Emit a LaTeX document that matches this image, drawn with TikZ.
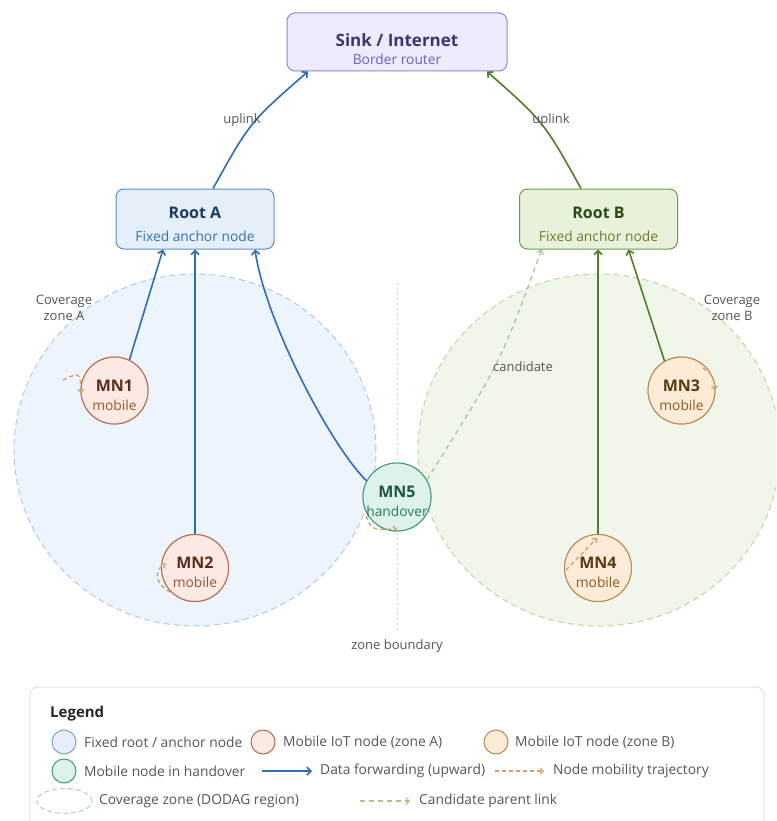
\documentclass[tikz,border=0pt]{standalone}
\usepackage{fontspec}
\setmainfont{Open Sans}
\usetikzlibrary{arrows.meta}
\definecolor{blueA}{HTML}{2E6DB4}
\definecolor{greenB}{HTML}{4F7F2A}
\definecolor{rootAfill}{HTML}{E5EFFA}
\definecolor{rootAdraw}{HTML}{5C8CC8}
\definecolor{rootAtitle}{HTML}{1E3A5F}
\definecolor{rootAsub}{HTML}{3A70AD}
\definecolor{rootBfill}{HTML}{E7F1DC}
\definecolor{rootBdraw}{HTML}{6E9A45}
\definecolor{rootBtitle}{HTML}{2C4A16}
\definecolor{rootBsub}{HTML}{6F7D22}
\definecolor{sinkfill}{HTML}{EEEBFC}
\definecolor{sinkdraw}{HTML}{8F86D8}
\definecolor{sinktitle}{HTML}{3C3570}
\definecolor{sinksub}{HTML}{6B5FC7}
\definecolor{zAfill}{HTML}{EEF4FC}
\definecolor{zAdraw}{HTML}{AECBEB}
\definecolor{zBfill}{HTML}{F1F6EA}
\definecolor{zBdraw}{HTML}{C0D6A6}
\definecolor{mAfill}{HTML}{FBEAE3}
\definecolor{mAdraw}{HTML}{B86A50}
\definecolor{mAtitle}{HTML}{5B2A1A}
\definecolor{mAsub}{HTML}{A0522D}
\definecolor{mBfill}{HTML}{FBEBD7}
\definecolor{mBdraw}{HTML}{B98A50}
\definecolor{mBtitle}{HTML}{5A3A14}
\definecolor{mBsub}{HTML}{8B5A20}
\definecolor{m5fill}{HTML}{DDF2E9}
\definecolor{m5draw}{HTML}{3F9C7B}
\definecolor{m5title}{HTML}{1E5546}
\definecolor{m5sub}{HTML}{2F7A60}
\definecolor{traj}{HTML}{D4A06A}
\definecolor{cand}{HTML}{A9C58E}
\definecolor{txtgray}{HTML}{555555}
\definecolor{bndgray}{HTML}{CFCFCF}
\definecolor{leggray}{HTML}{E3E3E3}
\begin{document}
\begin{tikzpicture}[x=1pt,y=-1pt,
  lbl/.style={font=\fontsize{13}{15.5}\selectfont, text=txtgray, inner sep=1pt},
  boxR/.style={draw, rounded corners=8pt, line width=1pt, minimum width=158pt, minimum height=60pt},
  mnode/.style={circle, draw, line width=1pt, minimum size=67pt, inner sep=0pt},
  ttl/.style={font=\bfseries\fontsize{16}{18}\selectfont, inner sep=0pt},
  subt/.style={font=\fontsize{13.8}{15}\selectfont, inner sep=0pt},
  legt/.style={font=\fontsize{13.8}{15}\selectfont, text=txtgray, anchor=west, inner sep=0pt},
  legc/.style={circle, draw, line width=1pt, minimum size=24pt, inner sep=0pt},
  arrA/.style={draw=blueA, line width=1.6pt, -{Straight Barb[length=4pt,width=8pt]}},
  arrB/.style={draw=greenB, line width=1.6pt, -{Straight Barb[length=4pt,width=8pt]}},
  trajs/.style={draw=traj, line width=1.3pt, dash pattern=on 4pt off 3pt, -{Straight Barb[length=3pt,width=6pt]}},
  cands/.style={draw=cand, line width=1.2pt, dash pattern=on 5pt off 4pt, -{Straight Barb[length=3.5pt,width=7pt]}},
]
\clip (0,0) rectangle (776,821);
\fill[white] (0,0) rectangle (776,821);

% coverage zones
\draw[fill=zAfill, draw=zAdraw, line width=1pt, dash pattern=on 6pt off 4pt] (195,450) ellipse [x radius=181pt, y radius=176pt];
\draw[fill=zBfill, draw=zBdraw, line width=1pt, dash pattern=on 6pt off 4pt] (599,450) ellipse [x radius=181pt, y radius=176pt];
\node[lbl, align=center] (zA) at (64,308) {Coverage\\zone A};
\node[lbl, align=center] (zB) at (732,308) {Coverage\\zone B};

% zone boundary
\coordinate (bt) at (397,283);
\coordinate (bb) at (397,630);
\draw[bndgray, line width=1pt, dash pattern=on 2pt off 3pt] (bt) -- (bb);
\node[lbl] (zbl) at (397,646) {zone boundary};

% boxes
\node[boxR, fill=sinkfill, draw=sinkdraw, minimum width=220pt, minimum height=58pt] (sink) at (397,42) {};
\node[ttl, text=sinktitle, font=\bfseries\fontsize{17}{19}\selectfont] (sinkT) at (397,40) {Sink / Internet};
\node[subt, text=sinksub] (sinkS) at (397,59) {Border router};

\node[boxR, fill=rootAfill, draw=rootAdraw] (rootA) at (195,219) {};
\node[ttl, text=rootAtitle] (rootAT) at (195,213) {Root A};
\node[subt, text=rootAsub] (rootAS) at (195,236) {Fixed anchor node};

\node[boxR, fill=rootBfill, draw=rootBdraw] (rootB) at (598.5,219) {};
\node[ttl, text=rootBtitle] (rootBT) at (598.5,213) {Root B};
\node[subt, text=rootBsub] (rootBS) at (598.5,236) {Fixed anchor node};

% mobile nodes
\node[mnode, fill=mAfill, draw=mAdraw] (mn1) at (114.5,390.5) {};
\node[mnode, fill=mAfill, draw=mAdraw] (mn2) at (195,568) {};
\node[mnode, fill=mBfill, draw=mBdraw] (mn3) at (681.5,390.5) {};
\node[mnode, fill=mBfill, draw=mBdraw] (mn4) at (598,568) {};
\node[mnode, fill=m5fill, draw=m5draw, minimum size=68pt] (mn5) at (397,497) {};

% uplinks
\draw[arrA] (rootA.north -| 213,0) .. controls (250,122) .. (sink.south -| 308,0);
\draw[arrB] (rootB.north -| 581,0) .. controls (544,122) .. (sink.south -| 487,0);
\node[lbl] (up1) at (242,120) {uplink};
\node[lbl] (up2) at (551,120) {uplink};

% data forwarding
\draw[arrA] (mn1.64) -- ([xshift=-32pt]rootA.south);
\draw[arrA] (mn2.north) -- (rootA.south);
\draw[arrA] (mn5.152) .. controls (330,445) and (265,320) .. ([xshift=60pt]rootA.south);
\draw[arrB] (mn3.120) -- ([xshift=30pt]rootB.south);
\draw[arrB] (mn4.north) -- (rootB.south -| mn4);

% candidate
\draw[cands] (mn5.30) .. controls (501,362) .. ([xshift=-57pt]rootB.south);
\node[lbl] (candl) at (523,367) {candidate};

% redraw nodes on top of link ends
\node[mnode, fill=mAfill, draw=mAdraw] (mn1b) at (mn1) {};
\node[mnode, fill=mAfill, draw=mAdraw] (mn2b) at (mn2) {};
\node[mnode, fill=mBfill, draw=mBdraw] (mn3b) at (mn3) {};
\node[mnode, fill=mBfill, draw=mBdraw] (mn4b) at (mn4) {};
\node[mnode, fill=m5fill, draw=m5draw, minimum size=68pt] (mn5b) at (mn5) {};

\node[ttl, text=mAtitle] (mn1T) at (114.5,386) {MN1};
\node[subt, text=mAsub] (mn1S) at (114.5,405) {mobile};
\node[ttl, text=mAtitle] (mn2T) at (195,563) {MN2};
\node[subt, text=mAsub] (mn2S) at (195,582) {mobile};
\node[ttl, text=mBtitle] (mn3T) at (681.5,386) {MN3};
\node[subt, text=mBsub] (mn3S) at (681.5,405) {mobile};
\node[ttl, text=mBtitle] (mn4T) at (598,563) {MN4};
\node[subt, text=mBsub] (mn4S) at (598,582) {mobile};
\node[ttl, text=m5title] (mn5T) at (397,492) {MN5};
\node[subt, text=m5sub] (mn5S) at (397,511) {handover};

% mobility trajectories
\coordinate (t1a) at (63,380);
\coordinate (t1b) at (81,393);
\draw[trajs] (t1a) .. controls (80,372) .. (t1b);
\coordinate (t2a) at (170,592);
\coordinate (t2b) at (166,564);
\draw[trajs] (t2a) .. controls (152,582) and (156,568) .. (t2b);
\coordinate (t3a) at (703,368);
\coordinate (t3b) at (715,390);
\draw[trajs] (t3a) .. controls (713,375) .. (t3b);
\coordinate (t4a) at (566,570);
\coordinate (t4b) at (597,538);
\draw[trajs] (t4a) -- (t4b);
\coordinate (t5a) at (366,516);
\coordinate (t5b) at (397,529);
\draw[trajs] (t5a) .. controls (372,530) .. (t5b);

% legend
\draw[draw=leggray, fill=white, line width=1pt, rounded corners=8pt] (30,687) rectangle (764,840);
\node[anchor=west, inner sep=0pt, font=\bfseries\fontsize{15}{17}\selectfont, text=black!85] (legT) at (50,714) {Legend};

\node[legc, fill=rootAfill, draw=rootAdraw!80] (lc1) at (64,742) {};
\node[legt] (lt1) at (84,742) {Fixed root / anchor node};
\node[legc, fill=mAfill, draw=mAdraw] (lc2) at (263,742) {};
\node[legt] (lt2) at (283,742) {Mobile IoT node (zone A)};
\node[legc, fill=mBfill, draw=mBdraw] (lc3) at (496,742) {};
\node[legt] (lt3) at (515,742) {Mobile IoT node (zone B)};

\node[legc, fill=m5fill, draw=m5draw] (lc4) at (64,771) {};
\node[legt] (lt4) at (84,771) {Mobile node in handover};
\coordinate (la1) at (262,771);
\coordinate (la2) at (312,771);
\draw[arrA] (la1) -- (la2);
\node[legt] (lt5) at (320,771) {Data forwarding (upward)};
\coordinate (lb1) at (495,771);
\coordinate (lb2) at (544,771);
\draw[trajs] (lb1) -- (lb2);
\node[legt] (lt6) at (553,771) {Node mobility trajectory};

\draw[draw=zAdraw, line width=1pt, dash pattern=on 5pt off 3pt] (64.5,801) ellipse [x radius=27.5pt, y radius=12.5pt];
\node[legt] (lt7) at (99,801) {Coverage zone (DODAG region)};
\coordinate (lc1a) at (360,801);
\coordinate (lc1b) at (410,801);
\draw[cands] (lc1a) -- (lc1b);
\node[legt] (lt8) at (419,801) {Candidate parent link};
\end{tikzpicture}
\end{document}
